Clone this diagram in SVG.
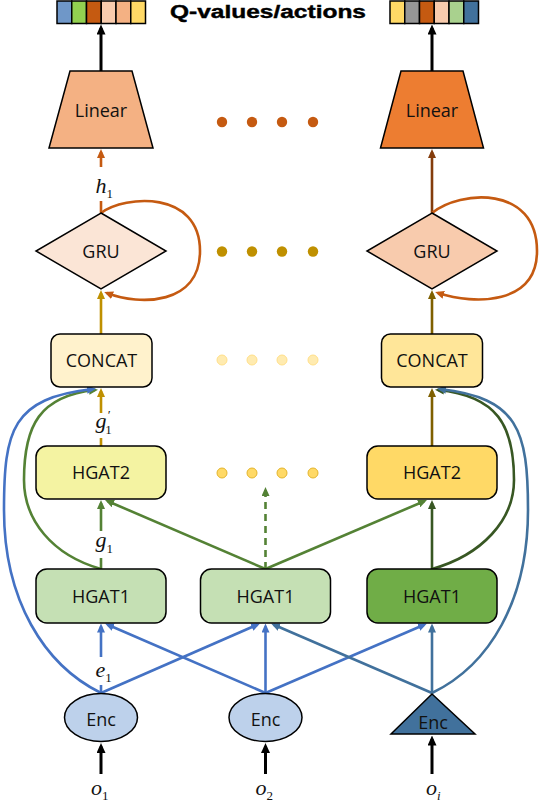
<svg xmlns="http://www.w3.org/2000/svg" width="540" height="804" viewBox="0 0 540 804">
<style>
.node{stroke:#000;stroke-width:1.5}
.lbl{font-family:"Open Sans","Liberation Sans",sans-serif;font-size:18px;fill:#111;text-anchor:middle}
.var{font-family:"Liberation Serif","Times New Roman",serif;font-style:italic;font-size:22px;fill:#111}
.sub{font-size:13px;font-style:normal}
.subi{font-size:13px;font-style:italic}
.e{fill:none;stroke-width:2.6}
.cell{stroke:#000;stroke-width:1.5}
</style>
<defs>
<marker id="aK" viewBox="0 0 10 9" markerUnits="userSpaceOnUse" markerWidth="10" markerHeight="9" refX="6.5" refY="4.5" orient="auto"><path d="M0,0 L10,4.5 L0,9 z" fill="#000"/></marker>
<marker id="aO" viewBox="0 0 9 8" markerUnits="userSpaceOnUse" markerWidth="9" markerHeight="8" refX="6" refY="4" orient="auto"><path d="M0,0 L9,4 L0,8 z" fill="#C55A11"/></marker>
<marker id="aB" viewBox="0 0 9 8" markerUnits="userSpaceOnUse" markerWidth="9" markerHeight="8" refX="6" refY="4" orient="auto"><path d="M0,0 L9,4 L0,8 z" fill="#843C0C"/></marker>
<marker id="aG" viewBox="0 0 9 8" markerUnits="userSpaceOnUse" markerWidth="9" markerHeight="8" refX="6" refY="4" orient="auto"><path d="M0,0 L9,4 L0,8 z" fill="#BF9000"/></marker>
<marker id="aD" viewBox="0 0 9 8" markerUnits="userSpaceOnUse" markerWidth="9" markerHeight="8" refX="6" refY="4" orient="auto"><path d="M0,0 L9,4 L0,8 z" fill="#7F6000"/></marker>
<marker id="aN" viewBox="0 0 9 8" markerUnits="userSpaceOnUse" markerWidth="9" markerHeight="8" refX="6" refY="4" orient="auto"><path d="M0,0 L9,4 L0,8 z" fill="#548235"/></marker>
<marker id="aM" viewBox="0 0 9 8" markerUnits="userSpaceOnUse" markerWidth="9" markerHeight="8" refX="6" refY="4" orient="auto"><path d="M0,0 L9,4 L0,8 z" fill="#385723"/></marker>
<marker id="aL" viewBox="0 0 9 8" markerUnits="userSpaceOnUse" markerWidth="9" markerHeight="8" refX="6" refY="4" orient="auto"><path d="M0,0 L9,4 L0,8 z" fill="#4472C4"/></marker>
<marker id="aS" viewBox="0 0 9 8" markerUnits="userSpaceOnUse" markerWidth="9" markerHeight="8" refX="6" refY="4" orient="auto"><path d="M0,0 L9,4 L0,8 z" fill="#41719C"/></marker>
</defs>
<rect width="540" height="804" fill="#fff"/>

<g id="qbar-left">
<rect class="cell" x="57" y="1" width="14.75" height="22.5" fill="#6F97C8"/>
<rect class="cell" x="71.75" y="1" width="14.75" height="22.5" fill="#92D050"/>
<rect class="cell" x="86.5" y="1" width="14.75" height="22.5" fill="#C55A11"/>
<rect class="cell" x="101.25" y="1" width="14.75" height="22.5" fill="#F8CBAD"/>
<rect class="cell" x="116" y="1" width="14.75" height="22.5" fill="#F4B183"/>
<rect class="cell" x="130.75" y="1" width="14.75" height="22.5" fill="#FFD966"/>
</g>
<g id="qbar-right">
<rect class="cell" x="390" y="1" width="14.75" height="22.5" fill="#FFD966"/>
<rect class="cell" x="404.75" y="1" width="14.75" height="22.5" fill="#969696"/>
<rect class="cell" x="419.5" y="1" width="14.75" height="22.5" fill="#C55A11"/>
<rect class="cell" x="434.25" y="1" width="14.75" height="22.5" fill="#F8CBAD"/>
<rect class="cell" x="449" y="1" width="14.75" height="22.5" fill="#A9D18E"/>
<rect class="cell" x="463.75" y="1" width="14.75" height="22.5" fill="#41719C"/>
</g>
<text id="title" x="170" y="17.5" textLength="196" lengthAdjust="spacingAndGlyphs" font-family="Liberation Sans, Arial, sans-serif" font-weight="bold" font-size="18" fill="#000" stroke="#000" stroke-width="0.4">Q-values/actions</text>

<g id="connectors">
<line x1="101" y1="71" x2="101" y2="28" stroke="#000" stroke-width="3" marker-end="url(#aK)"/>
<line x1="432" y1="71" x2="432" y2="28" stroke="#000" stroke-width="3" marker-end="url(#aK)"/>
<line class="e" x1="101" y1="213" x2="101" y2="201" stroke="#C55A11"/>
<line class="e" x1="101" y1="167" x2="101" y2="152" stroke="#C55A11" marker-end="url(#aO)"/>
<line class="e" x1="432" y1="213" x2="432" y2="152" stroke="#843C0C" marker-end="url(#aB)"/>
<path class="e" d="M101,213 C125,195 200,190 200,251 C200,305 140,306 107,293" stroke="#C55A11" marker-end="url(#aO)"/>
<path class="e" d="M432,213 C460,190 537,185 537,251 C537,305 475,305 438,293" stroke="#C55A11" marker-end="url(#aO)"/>
<line class="e" x1="101" y1="334" x2="101" y2="293" stroke="#BF9000" marker-end="url(#aG)"/>
<line class="e" x1="432" y1="334" x2="432" y2="293" stroke="#7F6000" marker-end="url(#aD)"/>
<line class="e" x1="101" y1="446" x2="101" y2="438" stroke="#BF9000"/>
<line class="e" x1="101" y1="413" x2="101" y2="391" stroke="#BF9000" marker-end="url(#aG)"/>
<line class="e" x1="432" y1="446" x2="432" y2="391" stroke="#7F6000" marker-end="url(#aD)"/>
<line class="e" x1="101" y1="569" x2="101" y2="558" stroke="#548235"/>
<line class="e" x1="101" y1="531" x2="101" y2="503" stroke="#548235" marker-end="url(#aN)"/>
<line class="e" x1="432" y1="569" x2="432" y2="503" stroke="#385723" marker-end="url(#aM)"/>
<line class="e" x1="265.5" y1="569" x2="107.8" y2="501.2" stroke="#548235" marker-end="url(#aN)"/>
<line class="e" x1="265.5" y1="569" x2="424.2" y2="501.2" stroke="#548235" marker-end="url(#aN)"/>
<line class="e" x1="265.5" y1="569" x2="265.5" y2="490" stroke="#548235" stroke-dasharray="7 5" marker-end="url(#aN)"/>
<path class="e" d="M101,569 C52,555 24,520 24,480 C24,425 40,396 95,390" stroke="#548235" marker-end="url(#aN)"/>
<path class="e" d="M432,569 C482,555 514,520 514,480 C514,425 497,396 438,390" stroke="#385723" marker-end="url(#aM)"/>
<path class="e" d="M101,693 C44,665 4,600 4,510 C4,430 12,398 93,389" stroke="#4472C4" marker-end="url(#aL)"/>
<path class="e" d="M432,693 C490,665 528,600 528,510 C528,430 518,398 440,389" stroke="#41719C" marker-end="url(#aS)"/>
<line class="e" x1="101" y1="693" x2="101" y2="685" stroke="#4472C4"/>
<line class="e" x1="101" y1="657" x2="101" y2="626.5" stroke="#4472C4" marker-end="url(#aL)"/>
<line class="e" x1="101" y1="693" x2="257.3" y2="624.7" stroke="#4472C4" marker-end="url(#aL)"/>
<line class="e" x1="265.5" y1="693" x2="107.8" y2="624.7" stroke="#4472C4" marker-end="url(#aL)"/>
<line class="e" x1="265.5" y1="693" x2="265.5" y2="626.5" stroke="#4472C4" marker-end="url(#aL)"/>
<line class="e" x1="265.5" y1="693" x2="424.2" y2="624.7" stroke="#4472C4" marker-end="url(#aL)"/>
<line class="e" x1="432" y1="693" x2="273.8" y2="624.7" stroke="#41719C" marker-end="url(#aS)"/>
<line class="e" x1="432" y1="693" x2="432" y2="626.5" stroke="#41719C" marker-end="url(#aS)"/>
<line x1="101" y1="774" x2="101" y2="746.5" stroke="#000" stroke-width="3" marker-end="url(#aK)"/>
<line x1="265.5" y1="774" x2="265.5" y2="746.5" stroke="#000" stroke-width="3" marker-end="url(#aK)"/>
<line x1="432" y1="774" x2="432" y2="739" stroke="#000" stroke-width="3" marker-end="url(#aK)"/>
</g>

<g id="linear-1"><polygon class="node" points="70,71 132,71 153,148 49,148" fill="#F4B183"/><text class="lbl" x="101" y="116.5">Linear</text></g>
<g id="linear-i"><polygon class="node" points="401,71 463,71 483.5,148 380.5,148" fill="#ED7D31"/><text class="lbl" x="432" y="116.5">Linear</text></g>
<g id="gru-1"><polygon class="node" points="101,213 166,251 101,289 36,251" fill="#FBE5D6"/><text class="lbl" x="101" y="257.5">GRU</text></g>
<g id="gru-i"><polygon class="node" points="432,213 497,251 432,289 367,251" fill="#F8CBAD"/><text class="lbl" x="432" y="257.5">GRU</text></g>
<g id="concat-1"><rect class="node" x="51" y="334" width="101" height="53" rx="9" fill="#FFF2CC"/><text class="lbl" x="101.5" y="367">CONCAT</text></g>
<g id="concat-i"><rect class="node" x="381.5" y="334" width="101" height="53" rx="9" fill="#FFE699"/><text class="lbl" x="432" y="367">CONCAT</text></g>
<g id="hgat2-1"><rect class="node" x="36" y="446" width="130" height="53" rx="11" fill="#F4F3A2"/><text class="lbl" x="101" y="479">HGAT2</text></g>
<g id="hgat2-i"><rect class="node" x="367" y="446" width="130" height="53" rx="11" fill="#FFD966"/><text class="lbl" x="432" y="479">HGAT2</text></g>
<g id="hgat1-1"><rect class="node" x="36" y="569" width="130" height="54" rx="11" fill="#C5E0B4"/><text class="lbl" x="101" y="602.5">HGAT1</text></g>
<g id="hgat1-2"><rect class="node" x="200.5" y="569" width="130" height="54" rx="11" fill="#C5E0B4"/><text class="lbl" x="265.5" y="602.5">HGAT1</text></g>
<g id="hgat1-i"><rect class="node" x="367" y="569" width="130" height="54" rx="11" fill="#70AD47"/><text class="lbl" x="432" y="602.5">HGAT1</text></g>
<g id="enc-1"><ellipse class="node" cx="101" cy="717.5" rx="36.5" ry="24" fill="#BDD1EB"/><text class="lbl" x="101" y="726">Enc</text></g>
<g id="enc-2"><ellipse class="node" cx="265.5" cy="717.5" rx="36.5" ry="24" fill="#BDD1EB"/><text class="lbl" x="265.5" y="726">Enc</text></g>
<g id="enc-i"><polygon class="node" points="432,694 475,734 391,734" fill="#41719C"/><text class="lbl" x="433" y="729">Enc</text></g>

<g id="dots">
<g fill="#C55A11"><circle cx="222" cy="122" r="5.2"/><circle cx="252" cy="122" r="5.2"/><circle cx="282" cy="122" r="5.2"/><circle cx="313" cy="122" r="5.2"/></g>
<g fill="#BF9000"><circle cx="222" cy="251.5" r="5.2"/><circle cx="252" cy="251.5" r="5.2"/><circle cx="282" cy="251.5" r="5.2"/><circle cx="313" cy="251.5" r="5.2"/></g>
<g fill="#FFEBB0" stroke="#FFE08A" stroke-width="1"><circle cx="222" cy="360" r="5"/><circle cx="252" cy="360" r="5"/><circle cx="282" cy="360" r="5"/><circle cx="313" cy="360" r="5"/></g>
<g fill="#FFD966" stroke="#E4B52C" stroke-width="1"><circle cx="222" cy="473" r="5"/><circle cx="252" cy="473" r="5"/><circle cx="282" cy="473" r="5"/><circle cx="313" cy="473" r="5"/></g>
</g>

<g id="labels">
<text class="var" x="95.5" y="193">h<tspan class="sub" dy="4.5">1</tspan></text>
<text class="var" x="95.5" y="428">g<tspan class="subi" font-size="12" dy="-9" dx="0.5">′</tspan><tspan class="sub" dx="-4.5" dy="15">1</tspan></text>
<text class="var" x="95.5" y="547">g<tspan class="sub" dy="6">1</tspan></text>
<text class="var" x="95.5" y="677">e<tspan class="sub" dy="5">1</tspan></text>
<text class="var" x="91" y="795">o<tspan class="sub" dy="4.5">1</tspan></text>
<text class="var" x="255.5" y="795">o<tspan class="sub" dy="4.5">2</tspan></text>
<text class="var" x="426" y="795">o<tspan class="subi" dy="4.5">i</tspan></text>
</g>
</svg>
